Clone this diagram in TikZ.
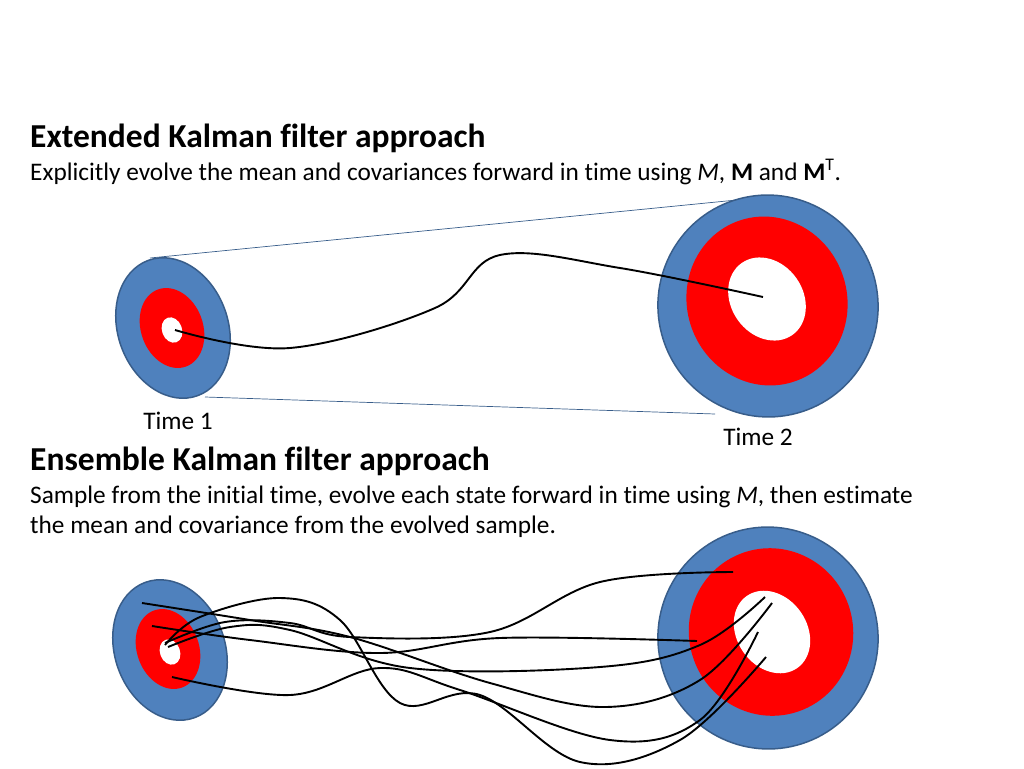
\documentclass[tikz,border=0pt]{standalone}
\usepackage{fontspec}
\setmainfont[Ligatures=NoCommon]{Carlito}
\definecolor{bl}{RGB}{79,129,189}
\definecolor{bld}{RGB}{56,93,138}
\begin{document}
\begin{tikzpicture}[x=1pt,y=-1pt,
 outer/.style={fill=bl,draw=bld,line width=1.5pt},
 inner/.style={fill=red},
 hole/.style={fill=white},
 path/.style={draw=black,line width=1.9pt},
 tx/.style={anchor=base west,inner sep=0pt}]
\useasboundingbox (0,0) rectangle (1024,768);
\node[tx,font=\bfseries\fontsize{33.5}{38}\selectfont] (t1) at (30,147) {Extended Kalman filter approach};
\node[tx,font=\fontsize{25.3}{30}\selectfont] (s1) at (30,180) {Explicitly evolve the mean and covariances forward in time using \textit{M}, \textbf{M} and \textbf{M}\textsuperscript{T}.};
\node[tx,font=\bfseries\fontsize{33.5}{38}\selectfont] (t2) at (30,470) {Ensemble Kalman filter approach};
\node[tx,font=\fontsize{25.3}{30}\selectfont] (s2) at (30,503) {Sample from the initial time, evolve each state forward in time using \textit{M}, then estimate};
\node[tx,font=\fontsize{25.3}{30}\selectfont] (s3) at (30,533) {the mean and covariance from the evolved sample.};
\node[font=\fontsize{25.3}{30}\selectfont] (time1) at (178,421) {Time 1};
\node[font=\fontsize{25.3}{30}\selectfont] (time2) at (758,437) {Time 2};
% top
\draw[bld,line width=0.7pt] (150,258) -- (757,198);
\draw[bld,line width=0.7pt] (205,397) -- (715,414);
\draw[outer,rotate around={20:(173,328)}] (173,328) ellipse (55 and 72);
\fill[inner,rotate around={20:(172,328)}] (172,328) ellipse (31 and 41);
\fill[hole,rotate around={20:(172,330)}] (172,330) ellipse (10 and 13);
\draw[outer,rotate around={15:(768,306)}] (768,306) ellipse (110 and 111);
\fill[inner,rotate around={20:(767,301)}] (767,301) ellipse (80 and 85);
\fill[hole,rotate around={35:(767,299)}] (767,299) ellipse (36 and 44);
\draw[path] plot[smooth,tension=0.6] coordinates {(175,330) (290,348) (435,308) (500,255) (620,268) (763,297)};
% bottom
\draw[outer,rotate around={20:(170,650)}] (170,650) ellipse (55 and 72);
\fill[inner,rotate around={20:(168,649)}] (168,649) ellipse (31 and 41);
\fill[hole,rotate around={20:(170,652)}] (170,652) ellipse (10 and 13);
\draw[outer,rotate around={15:(768,638)}] (768,638) ellipse (110 and 111);
\fill[inner,rotate around={20:(771,632)}] (771,632) ellipse (82 and 84);
\fill[hole,rotate around={35:(772,632)}] (772,632) ellipse (35 and 44);
\draw[path] plot[smooth,tension=0.6] coordinates {(142,603) (250,620) (350,637) (490,683) (605,707) (700,680) (772,603)};
\draw[path] plot[smooth,tension=0.6] coordinates {(152,626) (250,640) (380,653) (500,638) (697,641)};
\draw[path] plot[smooth,tension=0.6] coordinates {(172,677) (290,695) (380,668) (460,690) (610,740) (700,720) (758,632)};
\draw[path] plot[smooth,tension=0.6] coordinates {(165,645) (200,617) (280,598) (340,620) (400,703) (480,695) (580,762) (680,740) (766,657)};
\draw[path] plot[smooth,tension=0.6] coordinates {(165,643) (225,622) (290,623) (350,637) (490,632) (600,582) (733,572)};
\draw[path] plot[smooth,tension=0.6] coordinates {(168,647) (230,627) (290,630) (410,668) (600,667) (700,645) (765,597)};
\end{tikzpicture}
\end{document}
